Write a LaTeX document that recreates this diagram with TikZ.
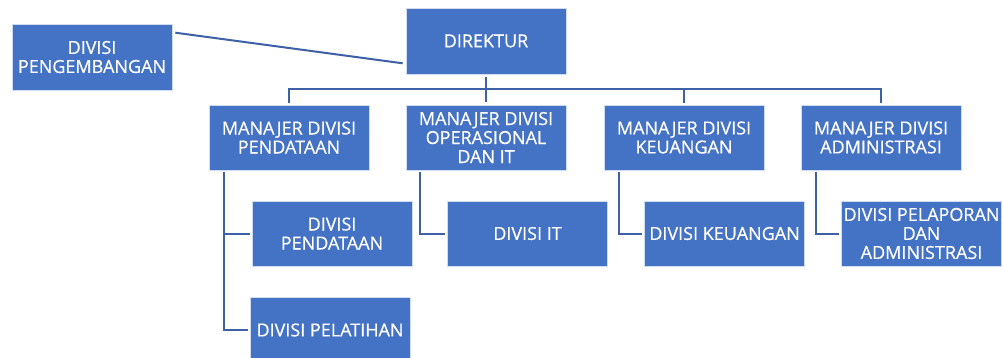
\documentclass[tikz,border=0pt]{standalone}
\usepackage{fontspec}
\setmainfont{Open Sans}[BoldFont={Open Sans},BoldFeatures={FakeBold=0.5}]
\definecolor{boxblue}{RGB}{68,114,196}
\definecolor{lineblue}{RGB}{62,96,166}
\tikzset{link/.style={lineblue,line width=2pt},
  orgbox/.style={fill=boxblue,draw=white!75!boxblue,line width=0.6pt,text=white,minimum width=160pt,minimum height=65pt,inner sep=0pt,align=center,font=\fontsize{18}{19}\selectfont\bfseries}}

\begin{document}
\begin{tikzpicture}[x=1pt,y=-1pt]
   \useasboundingbox (0,0) rectangle (1003,358);
   \node[orgbox,minimum height=66pt] (dir)  at (486,41)  {DIREKTUR};
   \node[orgbox,minimum height=66pt] (peng) at (92,57)   {DIVISI\\PENGEMBANGAN};
   \node[orgbox] (mdata) at (289,137.5) {MANAJER DIVISI\\PENDATAAN};
   \node[orgbox] (mops)  at (486,137.5) {MANAJER DIVISI\\OPERASIONAL\\DAN IT};
   \node[orgbox] (mkeu)  at (684,137.5) {MANAJER DIVISI\\KEUANGAN};
   \node[orgbox] (madm)  at (881,137.5) {MANAJER DIVISI\\ADMINISTRASI};
   \node[orgbox] (cdata) at (332,233.5) {DIVISI\\PENDATAAN};
   \node[orgbox,minimum height=66pt] (clat) at (330,330) {DIVISI PELATIHAN};
   \node[orgbox] (cit)   at (527.5,233.5) {DIVISI IT};
   \node[orgbox] (ckeu)  at (724.5,233.5) {DIVISI KEUANGAN};
   \node[orgbox] (cadm)  at (921.5,233.5) {DIVISI PELAPORAN\\DAN\\ADMINISTRASI};
   \draw[link] ([xshift=3pt,yshift=-9pt]peng.north east) -- ([xshift=-3pt,yshift=11pt]dir.south west);
   \draw[link] ([yshift=-3pt]dir.south) -- ([yshift=3pt]mops.north);
   \draw[link] ([yshift=2pt]mdata.north) -- ++(0,-14) -| ([yshift=2pt]madm.north);
   \draw[link] ([yshift=2pt]mkeu.north)  -- ++(0,-14);
   \draw[link] ([xshift=15pt,yshift=-2pt]mdata.south west) |- ([xshift=-2pt]cdata.west);
   \draw[link] ([xshift=15pt,yshift=-2pt]mdata.south west) |- ([xshift=-2pt]clat.west);
   \draw[link] ([xshift=14pt,yshift=-2pt]mops.south west)  |- ([xshift=-2pt]cit.west);
   \draw[link] ([xshift=15pt,yshift=-2pt]mkeu.south west)  |- ([xshift=-2pt]ckeu.west);
   \draw[link] ([xshift=15pt,yshift=-2pt]madm.south west)  |- ([xshift=-2pt]cadm.west);
\end{tikzpicture}
\end{document}
